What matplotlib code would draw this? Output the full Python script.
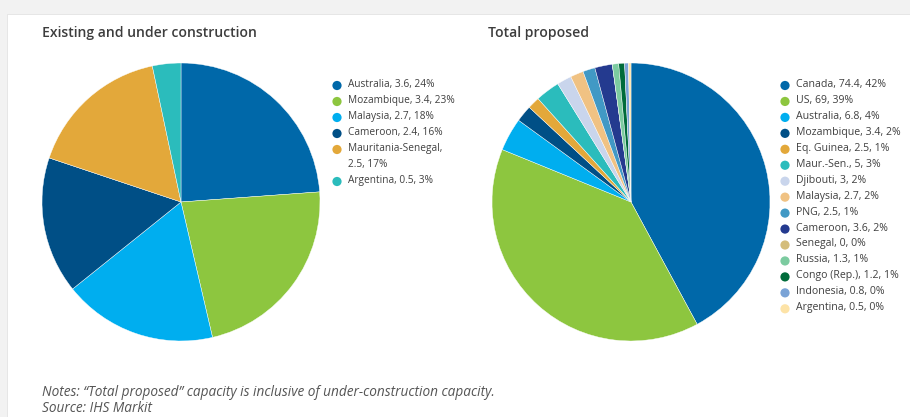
import matplotlib.pyplot as plt
from matplotlib.patches import Rectangle

plt.rcParams['font.family'] = ['Open Sans', 'DejaVu Sans']

# Existing and under construction capacity
existing_names = ['Australia', 'Mozambique', 'Malaysia', 'Cameroon',
                  'Mauritania-Senegal', 'Argentina']
existing_values = [3.6, 3.4, 2.7, 2.4, 2.5, 0.5]
existing_colors = ['#0068a9', '#8dc63f', '#00aeef', '#004f86', '#e3a83a', '#2bbcbc']

# Total proposed capacity
proposed_names = ['Canada', 'US', 'Australia', 'Mozambique', 'Eq. Guinea',
                  'Maur.-Sen.', 'Djibouti', 'Malaysia', 'PNG', 'Cameroon',
                  'Senegal', 'Russia', 'Congo (Rep.)', 'Indonesia', 'Argentina']
proposed_values = [74.4, 69, 6.8, 3.4, 2.5, 5, 3, 2.7, 2.5, 3.6, 0, 1.3, 1.2, 0.8, 0.5]
proposed_colors = ['#0068a9', '#8dc63f', '#00aeef', '#004f86', '#e3a83a',
                   '#2bbcbc', '#c9d5ec', '#f0c283', '#4199c5', '#243a8f',
                   '#d4bd7a', '#7ccba0', '#006b3a', '#7aa3d6', '#fde3a7']

W, H = 910, 417
fig = plt.figure(figsize=(W / 100, H / 100), dpi=100, facecolor='#f2f2f2')

# white card with a faint edge
fig.add_artist(Rectangle((7 / W, 0), 1, (H - 14) / H, transform=fig.transFigure,
                         facecolor='#e6e6e6', edgecolor='none', zorder=0))
fig.add_artist(Rectangle((8 / W, 0), 1, (H - 15) / H, transform=fig.transFigure,
                         facecolor='white', edgecolor='none', zorder=0))


def make_labels(names, values):
    total = sum(values)
    return ['%s, %g, %d%%' % (n, v, round(100 * v / total)) for n, v in zip(names, values)]


def draw_pie(cx, cy, r, values, colors):
    ax = fig.add_axes([(cx - r) / W, (H - cy - r) / H, 2 * r / W, 2 * r / H])
    ax.pie(values, colors=colors, startangle=90, counterclock=False, radius=1,
           wedgeprops=dict(edgecolor='white', linewidth=0.3))
    # pie() pads the limits, so set them afterwards
    ax.set_xlim(-1, 1)
    ax.set_ylim(-1, 1)
    ax.axis('off')
    return ax


ax1 = draw_pie(181, 202, 139, existing_values, existing_colors)
ax2 = draw_pie(631, 202, 139, proposed_values, proposed_colors)

# overlay in pixel coordinates for titles, legends and notes
ov = fig.add_axes([0, 0, 1, 1], facecolor='none')
ov.set_xlim(0, W)
ov.set_ylim(H, 0)
ov.axis('off')

title_kw = dict(fontsize=10.1, fontweight='semibold', color='#3d3d3d', va='center')
ov.text(42, 33, 'Existing and under construction', **title_kw)
ov.text(488, 33, 'Total proposed', **title_kw)


def draw_legend(x, y0, labels, colors, step=15.9, wrap=None, size=7.3):
    y = y0
    for lab, col in zip(labels, colors):
        if wrap and lab.startswith(wrap):
            lab = lab.replace(', ', ',\n', 1)
        ov.scatter([x], [y], s=44, color=col, edgecolors='none')
        # top-aligned so the first line sits level with the marker
        ov.text(x + 11, y - 6.5, lab, fontsize=size, color='#404040', va='top',
                linespacing=1.6)
        y += step * (lab.count('\n') + 1)


draw_legend(337, 85.5, make_labels(existing_names, existing_values),
            existing_colors, step=16, wrap='Mauritania', size=7.3)
draw_legend(785, 85.5, make_labels(proposed_names, proposed_values),
            proposed_colors, step=15.95, size=7.6)

note_kw = dict(fontsize=9.8, style='italic', color='#555555', va='center')
ov.text(42, 393, 'Notes: \u201cTotal proposed\u201d capacity is inclusive of under-construction capacity.',
        **note_kw)
ov.text(42, 408, 'Source: IHS Markit', **note_kw)

fig.savefig('out.png', dpi=100, facecolor=fig.get_facecolor())
